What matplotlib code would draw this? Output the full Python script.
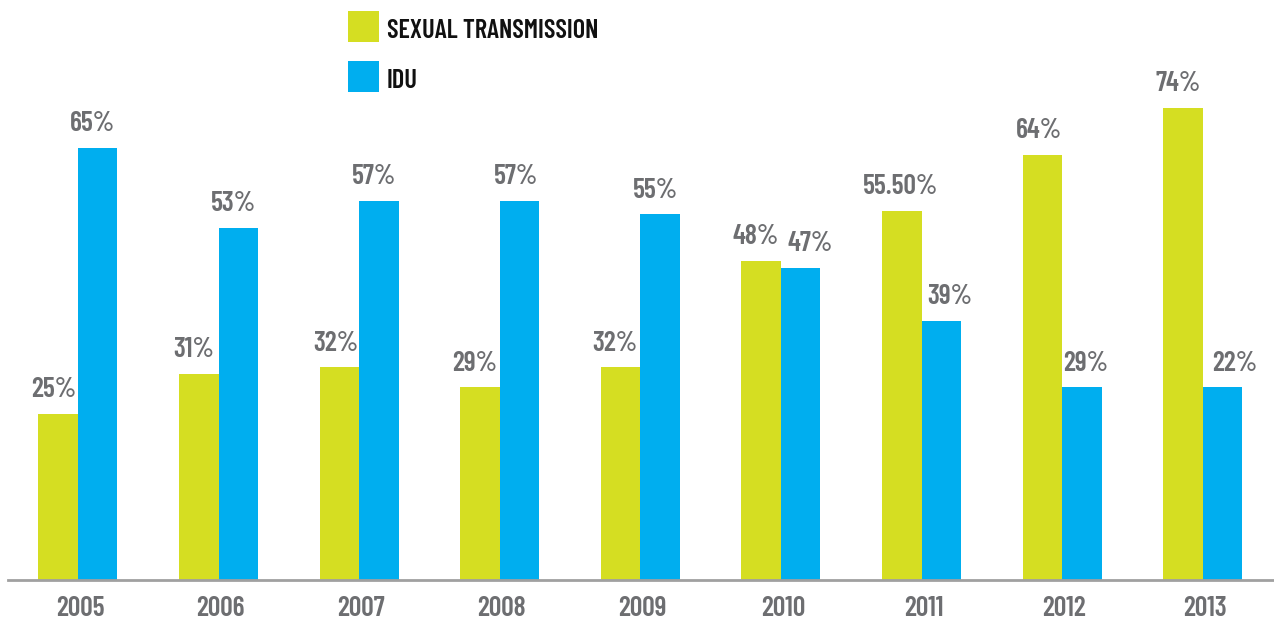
import matplotlib
matplotlib.use("Agg")
import matplotlib.pyplot as plt
from matplotlib.patches import Rectangle
import numpy as np

years = ["2005", "2006", "2007", "2008", "2009", "2010", "2011", "2012", "2013"]
# bar heights as drawn in the source chart
sexual = [25, 31, 32, 29, 32, 48, 55.5, 64, 71]
idu = [65, 53, 57, 57, 55, 47, 39, 29, 29]
# printed labels (the source labels don't always match the drawn height)
sexual_labels = ["25%", "31%", "32%", "29%", "32%", "48%", "55.50%", "64%", "74%"]
idu_labels = ["65%", "53%", "57%", "57%", "55%", "47%", "39%", "29%", "22%"]

GREEN = "#d5de22"
BLUE = "#00aeef"
GREY = "#6d6e71"
FONT = ["Barlow Condensed", "DejaVu Sans"]

# horizontal nudge of the value labels, in pixels (labels sit a bit off-centre)
nudge_sexual = [-5, -5, -4, -5, -6, -6, -1, -4, -5]
nudge_idu = [-5, -5, -5, -4, -5, 9, 8, 4, 12]

W, H = 1274, 621
fig = plt.figure(figsize=(W / 100, H / 100), dpi=100)

# axes placed in pixel terms: baseline at y=580, starts at x=8
ax = fig.add_axes([8 / W, (H - 580) / H, (W - 8) / W, 531.7 / H])
step = 140.6
ax.set_xlim((8 - 78) / step, (W - 78) / step)
ax.set_ylim(0, 80)

x = np.arange(len(years))
bw = 39.5 / step
ax.bar(x - bw, sexual, bw, align="edge", color=GREEN, linewidth=0)
ax.bar(x, idu, bw, align="edge", color=BLUE, linewidth=0)

lab = dict(textcoords="offset points", ha="center", va="baseline",
           fontsize=20, fontweight=600, color=GREY, family=FONT)
for i in range(len(years)):
    ax.annotate(sexual_labels[i], (x[i] - bw / 2, sexual[i]),
                xytext=(nudge_sexual[i] * 0.72, 12), **lab)
    ax.annotate(idu_labels[i], (x[i] + bw / 2, idu[i]),
                xytext=(nudge_idu[i] * 0.72, 12), **lab)

for s in ["top", "right", "left"]:
    ax.spines[s].set_visible(False)
ax.spines["bottom"].set_color("#a0a0a0")
ax.spines["bottom"].set_linewidth(2)
ax.set_yticks([])
ax.set_xticks(x + 2 / step)
ax.set_xticklabels(years, fontsize=20, fontweight=600, color=GREY, family=FONT)
ax.tick_params(axis="x", length=0, pad=11.5)

# legend drawn by hand in figure pixels
for (label, color, top) in [("SEXUAL TRANSMISSION", GREEN, 11), ("IDU", BLUE, 61)]:
    fig.patches.append(Rectangle((348 / W, (H - top - 31) / H), 31 / W, 31 / H,
                                 transform=fig.transFigure, color=color, linewidth=0))
    fig.text(387 / W, (H - top - 26.5) / H, label, fontsize=19, fontweight=600,
             color="#111111", family=FONT, va="baseline", ha="left")

fig.savefig("out.png", dpi=100, facecolor="white")
